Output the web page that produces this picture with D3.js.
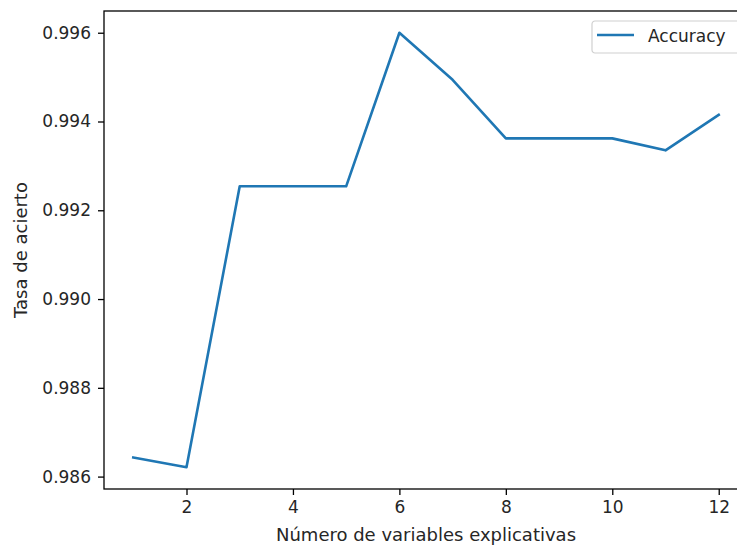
<!DOCTYPE html>
<html>
<head>
<meta charset="utf-8">
<script src="https://cdn.jsdelivr.net/npm/d3@7"></script>
<style>
  body { margin: 0; background: #fff; }
  svg { display: block; font-family: "DejaVu Sans", sans-serif; }
</style>
</head>
<body>
<script>
// Data
var nVars = [1, 2, 3, 4, 5, 6, 7, 8, 9, 10, 11, 12];
var accuracy = [0.98643, 0.98621, 0.99254, 0.99254, 0.99254, 0.99600,
                0.99494, 0.99362, 0.99362, 0.99362, 0.99335, 0.99415];
var xTicks = [2, 4, 6, 8, 10, 12];
var yTicks = [0.986, 0.988, 0.990, 0.992, 0.994, 0.996];
var seriesName = 'Accuracy';

var width = 737;
var height = 548;
var plot = { left: 104, right: 748, top: 11, bottom: 489 };
var fontSize = 17;
var labelSize = 18;
var lineColor = '#1f77b4';

// matplotlib-like 5% margins
function padded(ext) {
  var m = (ext[1] - ext[0]) * 0.05;
  return [ext[0] - m, ext[1] + m];
}

var x = d3.scaleLinear().domain(padded(d3.extent(nVars))).range([plot.left, plot.right]);
var y = d3.scaleLinear().domain(padded(d3.extent(accuracy))).range([plot.bottom, plot.top]);

var svg = d3.select('body').append('svg')
  .attr('width', width)
  .attr('height', height);

// axes
var xAxis = svg.append('g')
  .attr('transform', 'translate(0,' + plot.bottom + ')')
  .call(d3.axisBottom(x).tickValues(xTicks).tickSize(6).tickPadding(6).tickFormat(d3.format('d')));

var yAxis = svg.append('g')
  .attr('transform', 'translate(' + plot.left + ',0)')
  .call(d3.axisLeft(y).tickValues(yTicks).tickSize(6).tickPadding(7).tickFormat(d3.format('.3f')));

[xAxis, yAxis].forEach(function (g) {
  g.select('.domain').remove();
  g.selectAll('line').attr('stroke', '#000').attr('stroke-width', 1.3);
  g.selectAll('text')
    .attr('fill', '#262626')
    .style('font-size', fontSize + 'px')
    .style('font-family', '"DejaVu Sans", sans-serif');
});

// frame
svg.append('rect')
  .attr('x', plot.left)
  .attr('y', plot.top)
  .attr('width', plot.right - plot.left)
  .attr('height', plot.bottom - plot.top)
  .attr('fill', 'none')
  .attr('stroke', '#000')
  .attr('stroke-width', 1.3);

// line
var line = d3.line()
  .x(function (d, i) { return x(nVars[i]); })
  .y(function (d) { return y(d); });

svg.append('path')
  .datum(accuracy)
  .attr('d', line)
  .attr('fill', 'none')
  .attr('stroke', lineColor)
  .attr('stroke-width', 2.6)
  .attr('stroke-linejoin', 'round')
  .attr('stroke-linecap', 'square');

// axis labels
svg.append('text')
  .attr('x', (plot.left + plot.right) / 2)
  .attr('y', 541)
  .attr('text-anchor', 'middle')
  .attr('fill', '#262626')
  .style('font-size', labelSize + 'px')
  .text('Número de variables explicativas');

svg.append('text')
  .attr('transform', 'translate(27,' + ((plot.top + plot.bottom) / 2) + ') rotate(-90)')
  .attr('text-anchor', 'middle')
  .attr('fill', '#262626')
  .style('font-size', labelSize + 'px')
  .text('Tasa de acierto');

// legend
var legend = svg.append('g').attr('transform', 'translate(592,21)');
legend.append('rect')
  .attr('width', 150)
  .attr('height', 32)
  .attr('rx', 3)
  .attr('fill', '#fff')
  .attr('fill-opacity', 0.8)
  .attr('stroke', '#d0d0d0')
  .attr('stroke-width', 1.2);
legend.append('line')
  .attr('x1', 5).attr('x2', 42)
  .attr('y1', 14).attr('y2', 14)
  .attr('stroke', lineColor)
  .attr('stroke-width', 2.6);
legend.append('text')
  .attr('x', 56)
  .attr('y', 21)
  .attr('fill', '#262626')
  .style('font-size', fontSize + 'px')
  .text(seriesName);
</script>
</body>
</html>
